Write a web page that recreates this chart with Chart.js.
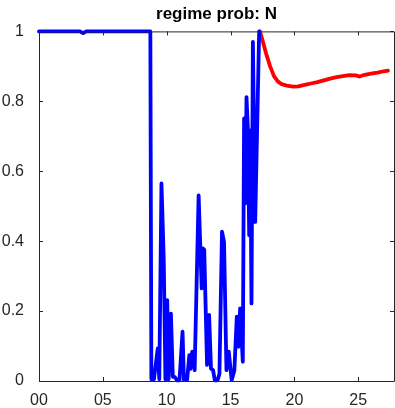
<!DOCTYPE html>
<html>
<head>
<meta charset="utf-8">
<script src="https://cdn.jsdelivr.net/npm/chart.js@4"></script>
<style>
  html, body { margin: 0; padding: 0; background: #fff; }
  #wrap { width: 395px; height: 408px; }
</style>
</head>
<body>
<div id="wrap"><canvas id="probChart" width="395" height="408"></canvas></div>
<script>
const titleText = 'regime prob: N';
const xTicks = [0, 5, 10, 15, 20, 25];
const yTicks = [0, 0.2, 0.4, 0.6, 0.8, 1];

// blue series (regime prob, estimated)
const blueX = [0, 3.2, 3.46, 3.7, 8.72, 8.8, 9.0, 9.3, 9.42, 9.59, 9.77, 9.9, 10.04, 10.15, 10.33,
  10.48, 10.62, 10.8, 11.0, 11.24, 11.35, 11.6, 11.77, 11.86, 12.0, 12.19, 12.5, 12.74, 12.84, 12.94,
  13.16, 13.32, 13.47, 13.63, 13.77, 13.98, 14.13, 14.33, 14.49, 14.68, 14.86, 15.09, 15.3, 15.49, 15.62,
  15.75, 15.96, 16.06, 16.14, 16.25, 16.35, 16.46, 16.54, 16.64, 16.75, 16.93, 17.24];
const blueY = [1, 1, 0.995, 1, 1, 0.005, 0.005, 0.093, 0.005, 0.565, 0.346, 0.005, 0.231, 0.005, 0.193,
  0.012, 0.012, 0.002, 0.002, 0.141, 0.003, 0.003, 0.074, 0.035, 0.084, 0.031, 0.531, 0.265, 0.379, 0.375,
  0.046, 0.189, 0.035, 0.031, 0.002, 0.002, 0.02, 0.427, 0.398, 0.031, 0.084, 0.003, 0.03, 0.184, 0.098,
  0.208, 0.055, 0.751, 0.508, 0.812, 0.727, 0.417, 0.717, 0.222, 0.97, 0.455, 1];

// red series (forecast part)
const redX = [17.3, 17.5, 17.8, 18.1, 18.4, 18.7, 19.0, 19.4, 19.9, 20.3, 20.8, 21.3, 21.8, 22.3, 22.8,
  23.3, 23.8, 24.3, 24.8, 25.1, 25.5, 26.0, 26.5, 27.0, 27.33];
const redY = [1.0, 0.975, 0.935, 0.9, 0.872, 0.857, 0.849, 0.845, 0.842, 0.843, 0.847, 0.851, 0.855, 0.86, 0.865,
  0.869, 0.872, 0.875, 0.874, 0.871, 0.876, 0.879, 0.882, 0.886, 0.888];

const axisColor = '#262626';

function toPoints(xs, ys) {
    return xs.map((x, i) => ({ x: x, y: ys[i] }));
}

// box round the plot + inward tick marks (matlab style)
const boxTicks = {
    id: 'boxTicks',
    afterDraw(chart) {
        const ctx = chart.ctx;
        const a = chart.chartArea;
        const xs = chart.scales.x, ys = chart.scales.y;
        const len = 4;
        ctx.save();
        ctx.strokeStyle = axisColor;
        ctx.lineWidth = 1;
        ctx.beginPath();
        ctx.rect(a.left + 0.5, a.top + 0.5, a.right - a.left, a.bottom - a.top);
        xTicks.forEach(v => {
            const px = Math.round(xs.getPixelForValue(v)) + 0.5;
            ctx.moveTo(px, a.bottom); ctx.lineTo(px, a.bottom - len);
            ctx.moveTo(px, a.top); ctx.lineTo(px, a.top + len);
        });
        yTicks.forEach(v => {
            const py = Math.round(ys.getPixelForValue(v)) + 0.5;
            ctx.moveTo(a.left, py); ctx.lineTo(a.left + len, py);
            ctx.moveTo(a.right, py); ctx.lineTo(a.right - len, py);
        });
        ctx.stroke();
        ctx.restore();
    }
};

const lineStyle = { borderWidth: 3.8, pointRadius: 0, tension: 0, clip: 6, borderJoinStyle: 'round', borderCapStyle: 'round' };

const ctx = document.getElementById('probChart').getContext('2d');
new Chart(ctx, {
    type: 'line',
    data: {
        datasets: [
            Object.assign({ data: toPoints(blueX, blueY), borderColor: '#0000ff' }, lineStyle),
            Object.assign({ data: toPoints(redX, redY), borderColor: '#ff0000' }, lineStyle)
        ]
    },
    options: {
        responsive: false,
        animation: false,
        devicePixelRatio: 1,
        layout: { padding: { left: 0, right: 1, top: 0, bottom: 0 } },
        plugins: {
            legend: { display: false },
            tooltip: { enabled: false },
            title: {
                display: true,
                text: titleText,
                fullSize: false,
                color: '#000',
                font: { family: 'Liberation Sans, Arial, sans-serif', size: 17, weight: 'bold' },
                padding: { top: 4, bottom: 7 }
            }
        },
        scales: {
            x: {
                type: 'linear',
                min: 0,
                max: 27.8,
                afterBuildTicks: s => { s.ticks = xTicks.map(v => ({ value: v })); },
                afterFit: s => { s.height = 27; },
                grid: { display: false },
                border: { display: false },
                ticks: {
                    padding: 2,
                    color: axisColor,
                    font: { family: 'Liberation Sans, Arial, sans-serif', size: 16 },
                    maxRotation: 0,
                    callback: v => String(v).padStart(2, '0')
                }
            },
            y: {
                min: 0,
                max: 1,
                afterBuildTicks: s => { s.ticks = yTicks.map(v => ({ value: v })); },
                afterFit: s => { s.width = 39; },
                grid: { display: false },
                border: { display: false },
                ticks: {
                    padding: 7,
                    color: axisColor,
                    font: { family: 'Liberation Sans, Arial, sans-serif', size: 16 },
                    callback: v => String(v)
                }
            }
        }
    },
    plugins: [boxTicks]
});
</script>
</body>
</html>
